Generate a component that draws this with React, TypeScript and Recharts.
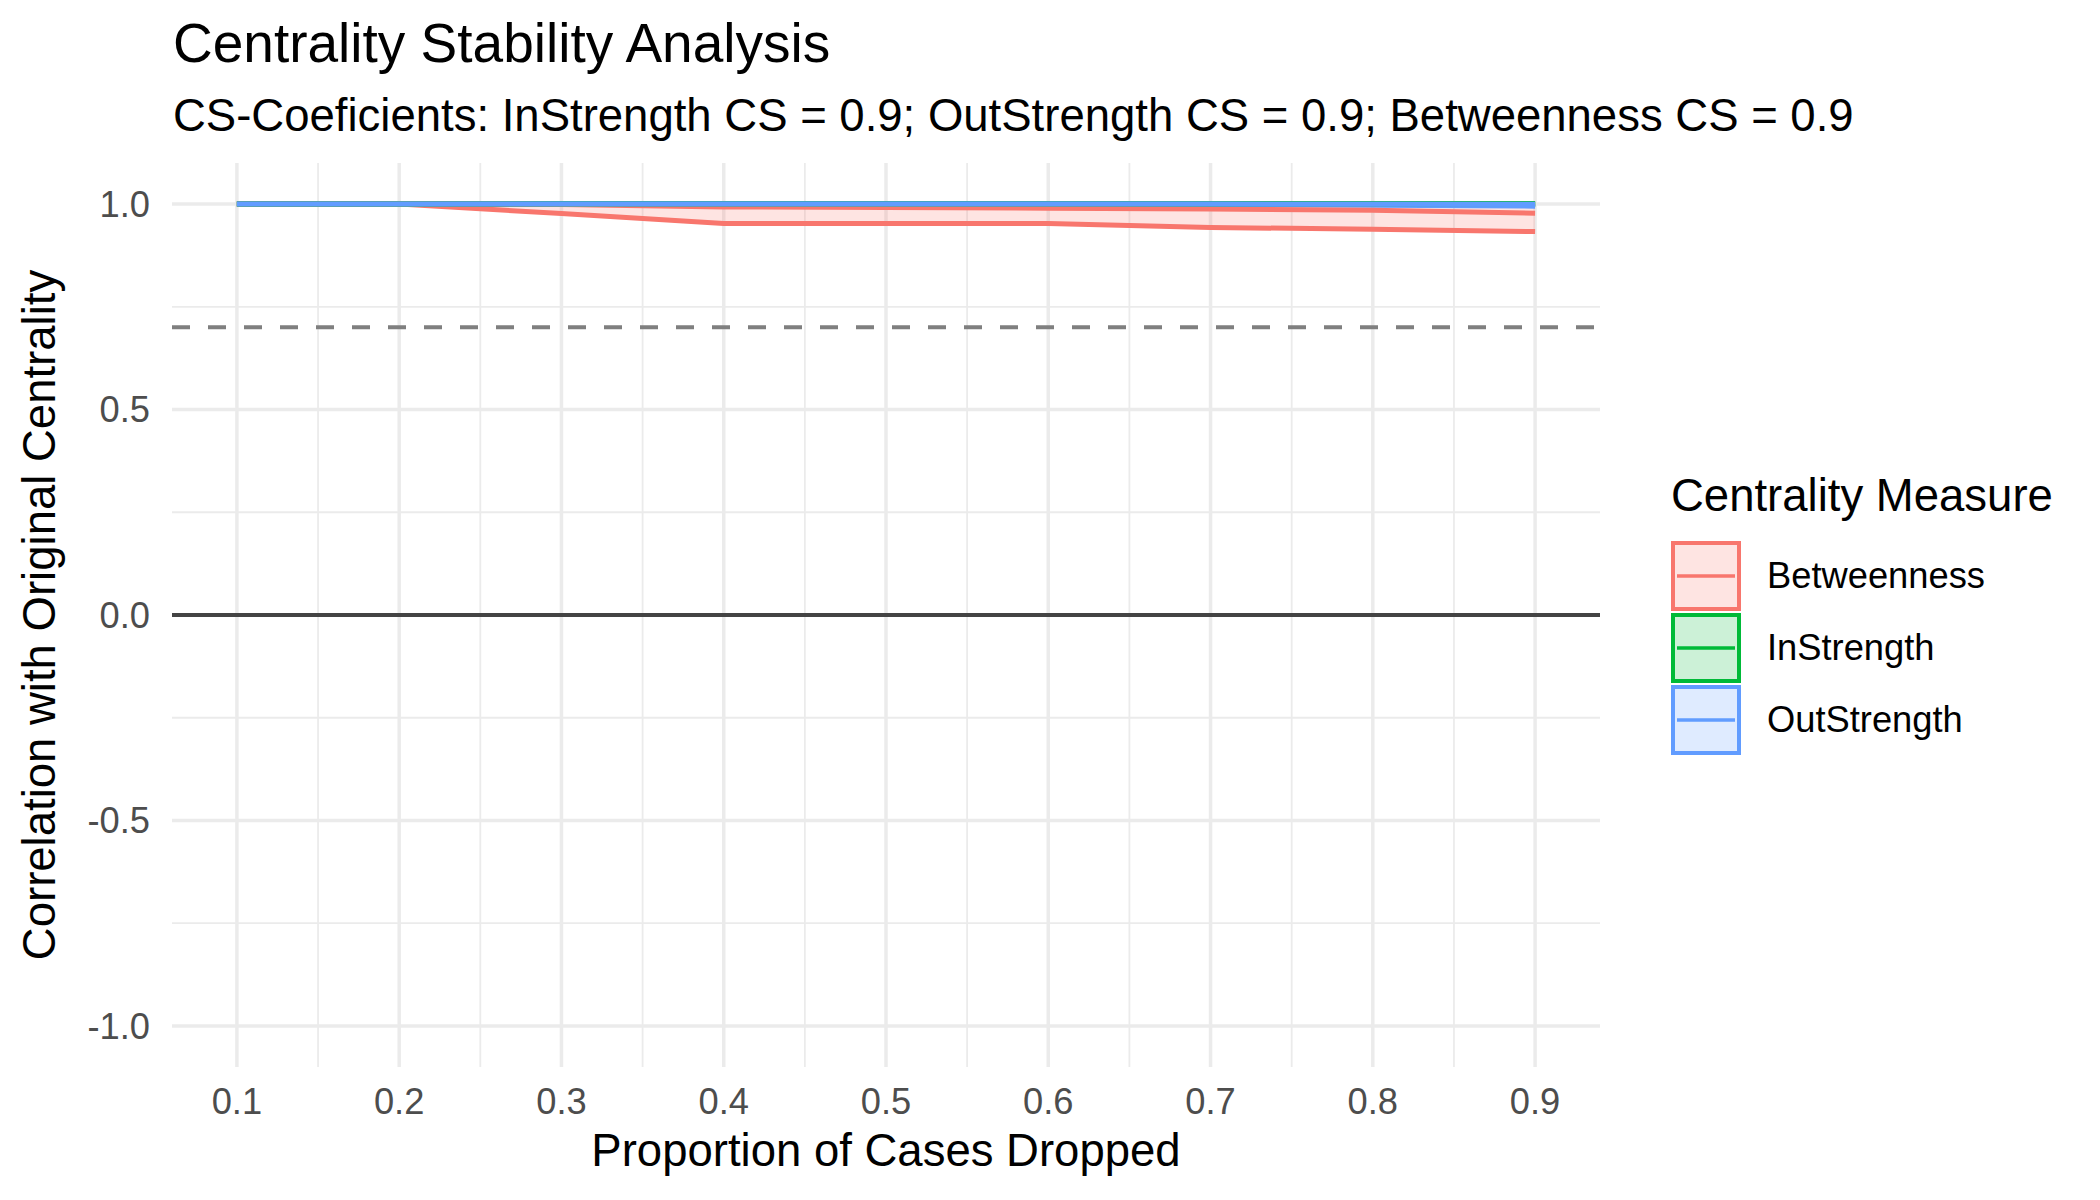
import { ComposedChart, Area, Line, XAxis, YAxis, CartesianGrid, ReferenceLine } from "recharts"

const proportions = [0.1, 0.2, 0.3, 0.4, 0.5, 0.6, 0.7, 0.8, 0.9]

const betweennessMean = [1.0, 1.0, 0.999, 0.993, 0.992, 0.99, 0.988, 0.985, 0.978]
const betweennessLower = [1.0, 1.0, 0.977, 0.953, 0.953, 0.953, 0.943, 0.939, 0.933]
const betweennessUpper = [1.0, 1.0, 1.0, 1.0, 1.0, 1.0, 1.0, 1.0, 1.0]

const inStrengthMean = [1.0, 1.0, 1.0, 1.0, 1.0, 1.0, 1.0, 1.0, 1.0]
const inStrengthLower = [1.0, 1.0, 1.0, 1.0, 1.0, 1.0, 1.0, 1.0, 1.0]
const inStrengthUpper = [1.0, 1.0, 1.0, 1.0, 1.0, 1.0, 1.0, 1.0, 1.0]

const outStrengthMean = [1.0, 1.0, 1.0, 1.0, 1.0, 1.0, 1.0, 0.9995, 0.999]
const outStrengthLower = [1.0, 1.0, 1.0, 1.0, 1.0, 1.0, 0.999, 0.997, 0.995]
const outStrengthUpper = [1.0, 1.0, 1.0, 1.0, 1.0, 1.0, 1.0, 1.0, 1.0]

const xTicks = [0.1, 0.2, 0.3, 0.4, 0.5, 0.6, 0.7, 0.8, 0.9]
const xMinor = [0.15, 0.25, 0.35, 0.45, 0.55, 0.65, 0.75, 0.85]
const yTicks = [-1, -0.5, 0, 0.5, 1]
const yMinor = [-0.75, -0.25, 0.25, 0.75]
const threshold = 0.7
const zeroLine = 0

const measures = [
  { key: "betweenness", name: "Betweenness", color: "#F8766D", mean: betweennessMean, lower: betweennessLower, upper: betweennessUpper },
  { key: "inStrength", name: "InStrength", color: "#00BA38", mean: inStrengthMean, lower: inStrengthLower, upper: inStrengthUpper },
  { key: "outStrength", name: "OutStrength", color: "#619CFF", mean: outStrengthMean, lower: outStrengthLower, upper: outStrengthUpper },
]

const data = proportions.map((p, i) => {
  const row: Record<string, any> = { x: p }
  measures.forEach((m) => {
    row[m.key + "Range"] = [m.lower[i], m.upper[i]]
    row[m.key + "Mean"] = m.mean[i]
  })
  return row
})

const font = '"Liberation Sans", Arial, Helvetica, sans-serif'

function Legend() {
  return (
    <div style={{ position: "absolute", left: 1671, top: 473, fontFamily: font }}>
      <div style={{ fontSize: 45.5, lineHeight: 1, color: "#000", whiteSpace: "nowrap" }}>Centrality Measure</div>
      <div style={{ position: "absolute", top: 68 }}>
        {measures.map((m, i) => (
          <div key={m.key} style={{ position: "absolute", top: i * 72, left: 0, height: 70, display: "flex", alignItems: "center" }}>
            <svg width={70} height={70}>
              <rect x={2} y={2} width={66} height={66} fill={m.color} fillOpacity={0.2} stroke={m.color} strokeWidth={4} />
              <line x1={6} y1={35} x2={64} y2={35} stroke={m.color} strokeWidth={3.5} />
            </svg>
            <span style={{ marginLeft: 26, fontSize: 36.3, whiteSpace: "nowrap", color: "#000" }}>{m.name}</span>
          </div>
        ))}
      </div>
    </div>
  )
}

export default function App() {
  return (
    <div style={{ position: "absolute", left: 0, top: 0, width: 2100, height: 1200, background: "#fff", fontFamily: font }}>
      <div style={{ position: "absolute", left: 173, top: 16, fontSize: 55, lineHeight: 1, whiteSpace: "nowrap" }}>
        Centrality Stability Analysis
      </div>
      <div style={{ position: "absolute", left: 173, top: 93, fontSize: 45.5, lineHeight: 1, whiteSpace: "nowrap" }}>
        CS-Coeficients: InStrength CS = 0.9; OutStrength CS = 0.9; Betweenness CS = 0.9
      </div>

      <ComposedChart width={2100} height={1200} data={data} margin={{ top: 163, right: 500, bottom: 73, left: 72 }}>
        <CartesianGrid verticalValues={xMinor} horizontalValues={yMinor} stroke="#EBEBEB" strokeWidth={1.8} />
        <CartesianGrid verticalValues={xTicks} horizontalValues={yTicks} stroke="#EBEBEB" strokeWidth={3.5} />
        <XAxis
          type="number"
          dataKey="x"
          domain={[0.06, 0.94]}
          ticks={xTicks}
          allowDataOverflow
          axisLine={false}
          tickLine={false}
          tickSize={0}
          tickMargin={21}
          height={60}
          tick={{ fill: "#4D4D4D", fontSize: 36.3, fontFamily: font }}
        />
        <YAxis
          type="number"
          domain={[-1.1, 1.1]}
          ticks={yTicks}
          allowDataOverflow
          axisLine={false}
          tickLine={false}
          tickSize={0}
          tickMargin={22}
          width={100}
          tickFormatter={(v: number) => v.toFixed(1)}
          tick={{ fill: "#4D4D4D", fontSize: 36.3, fontFamily: font }}
        />
        <ReferenceLine y={zeroLine} stroke="#444444" strokeWidth={4} />
        <ReferenceLine y={threshold} stroke="#7F7F7F" strokeWidth={4} strokeDasharray="18 18" />
        {measures.map((m) => (
          <Area
            key={m.key + "Range"}
            type="linear"
            dataKey={m.key + "Range"}
            fill={m.color}
            fillOpacity={0.2}
            stroke={m.color}
            strokeWidth={5}
            isAnimationActive={false}
            dot={false}
            activeDot={false}
          />
        ))}
        {measures.map((m) => (
          <Line
            key={m.key + "Mean"}
            type="linear"
            dataKey={m.key + "Mean"}
            stroke={m.color}
            strokeWidth={5}
            dot={false}
            activeDot={false}
            isAnimationActive={false}
          />
        ))}
      </ComposedChart>

      <div style={{ position: "absolute", left: 172, width: 1428, top: 1128, fontSize: 45.5, lineHeight: 1, textAlign: "center", whiteSpace: "nowrap" }}>
        Proportion of Cases Dropped
      </div>
      <div
        style={{
          position: "absolute",
          left: 40 - 500,
          top: 615 - 23,
          width: 1000,
          height: 46,
          fontSize: 45.5,
          lineHeight: 1,
          textAlign: "center",
          whiteSpace: "nowrap",
          transform: "rotate(-90deg)",
        }}
      >
        Correlation with Original Centrality
      </div>

      <Legend />
    </div>
  )
}
